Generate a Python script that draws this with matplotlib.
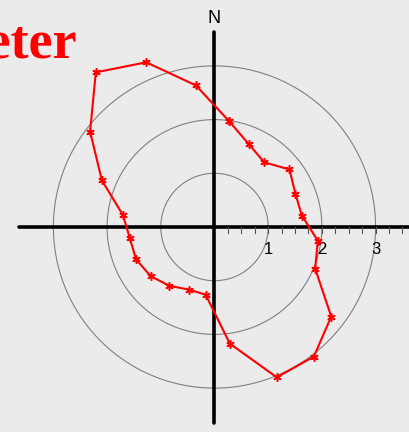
import numpy as np
import matplotlib.pyplot as plt

# bearings (deg clockwise from north) and radii
bearings = [7.5, 22.5, 37.5, 52.5, 67.5, 82.5, 97.5, 112.5, 127.5, 142.5, 157.5, 172.5,
            187.5, 202.5, 217.5, 232.5, 247.5, 262.5, 277.5, 292.5, 307.5, 322.5, 337.5, 352.5]
radii = [2.00, 1.67, 1.52, 1.76, 1.63, 1.64, 1.94, 2.03, 2.74, 3.04, 3.03, 2.19,
         1.27, 1.26, 1.38, 1.50, 1.58, 1.59, 1.72, 2.27, 2.92, 3.63, 3.32, 2.66]
rings = [1, 2, 3]
ring_labels = ["1", "2", "3"]
minor_ticks = np.arange(0.25, 3.51, 0.25)

BG = "#ebebeb"

fig = plt.figure(figsize=(4.09, 4.32), dpi=100, facecolor=BG)
ax = fig.add_axes([0, 0, 1, 1])
ax.set_facecolor(BG)
ax.set_xlim(-3.994, 3.622)
ax.set_ylim(-3.817, 4.227)
ax.set_aspect("equal")
ax.axis("off")

# range rings
t = np.linspace(0, 2 * np.pi, 400)
for r in rings:
    ax.plot(r * np.cos(t), r * np.sin(t), color="#808080", lw=0.8, zorder=1)

# axes cross
ax.plot([-3.64, 3.9], [0, 0], color="black", lw=2.6, solid_capstyle="round", zorder=2)
ax.plot([0, 0], [-3.65, 3.63], color="black", lw=2.6, solid_capstyle="round", zorder=2)

# small ticks on the east axis
for m in minor_ticks:
    ax.plot([m, m], [0, -0.11], color="#555555", lw=0.8, zorder=2)

for r, lab in zip(rings, ring_labels):
    ax.text(r, -0.28, lab, ha="center", va="top", fontsize=12,
            family="Liberation Sans", color="black")

ax.text(0, 3.8, "N", ha="center", va="baseline", fontsize=13,
        family="Liberation Sans", color="black")

# polygon of values
th = np.deg2rad(bearings + bearings[:1])
rr = np.array(radii + radii[:1])
x = rr * np.sin(th)
y = rr * np.cos(th)
ax.plot(x, y, color="red", lw=1.5, marker=(6, 2, 0), ms=6, mew=1.1,
        mec="red", zorder=3)

fig.text(77 / 409, 1 - 58 / 432, "Parameter", ha="right", va="baseline",
         fontsize=39, fontweight="bold", family="Liberation Serif", color="red")

fig.savefig("out.png", dpi=100, facecolor=BG)
